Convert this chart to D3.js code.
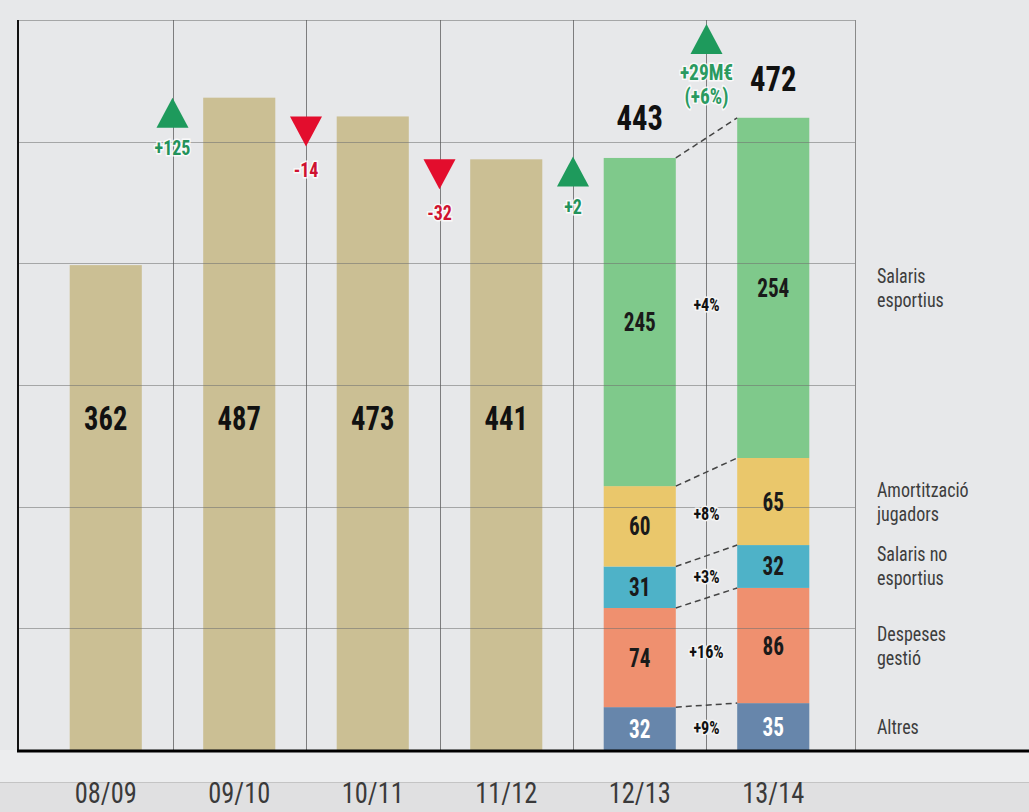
<!DOCTYPE html>
<html>
<head>
<meta charset="utf-8">
<script src="https://cdn.jsdelivr.net/npm/d3@7"></script>
<style>
  body { margin: 0; background: #e7e8ea; }
  text { font-family: "Roboto Condensed", "Liberation Sans Narrow", Roboto, sans-serif; }
</style>
</head>
<body>
<script>
// data
var seasons = ["08/09", "09/10", "10/11", "11/12", "12/13", "13/14"];
var totals = [362, 487, 473, 441, 443, 472];
var changes = ["+125", "-14", "-32", "+2"];
var totalChange = ["+29M€", "(+6%)"];

// breakdown, bottom to top
var categories = ["Altres", "Despeses gestió", "Salaris no esportius", "Amortització jugadors", "Salaris esportius"];
var legendLines = [["Altres"], ["Despeses", "gestió"], ["Salaris no", "esportius"], ["Amortització", "jugadors"], ["Salaris", "esportius"]];
var values1213 = [32, 74, 31, 60, 245];
var values1314 = [35, 86, 32, 65, 254];
var growth = ["+9%", "+16%", "+3%", "+8%", "+4%"];

var colors = ["#6786ab", "#ef906f", "#4eb2c8", "#eac76b", "#7fc98b"];
var barColor = "#cbbf94";
var upColor = "#1e9a5c", downColor = "#e30d2d";

var W = 1029, H = 812;
var plotLeft = 18, plotRight = 855, plotTop = 20, base = 750;
var yMax = 545;

var svg = d3.select("body").append("svg").attr("width", W).attr("height", H);

// squeeze text horizontally, no narrow font installed
function txt(parent, px, py, sx) {
  return parent.append("text")
    .attr("transform", "translate(" + px + "," + py + ") scale(" + sx + ",1)");
}

// backgrounds
svg.append("rect").attr("width", W).attr("height", H).attr("fill", "#e7e8ea");
svg.append("rect").attr("x", 0).attr("y", base).attr("width", W).attr("height", 32).attr("fill", "#ecedee");
svg.append("rect").attr("x", 0).attr("y", 782).attr("width", W).attr("height", H - 782).attr("fill", "#e0e0e1");
svg.append("line").attr("x1", 0).attr("x2", W).attr("y1", 782.5).attr("y2", 782.5).attr("stroke", "#c4c4c4");

var x = d3.scaleBand().domain(seasons).range([39, 840]).paddingInner(0.46).paddingOuter(0.23);
var y = d3.scaleLinear().domain([0, yMax]).range([base, plotTop]);
var gap = x.step() - x.bandwidth();

// plain bars
var simple = seasons.slice(0, 4);
svg.selectAll(".bar").data(simple).enter().append("rect")
  .attr("class", "bar")
  .attr("x", function (d) { return x(d); })
  .attr("y", function (d, i) { return y(totals[i]); })
  .attr("width", x.bandwidth())
  .attr("height", function (d, i) { return base - y(totals[i]); })
  .attr("fill", barColor);

// stacked bars
function stackOf(vals) {
  var acc = 0;
  return vals.map(function (v, i) {
    var s = { i: i, v: v, y0: acc, y1: acc + v };
    acc += v;
    return s;
  });
}
var stacks = [stackOf(values1213), stackOf(values1314)];
var stackSeasons = ["12/13", "13/14"];

stacks.forEach(function (st, k) {
  svg.append("g").selectAll("rect").data(st).enter().append("rect")
    .attr("x", x(stackSeasons[k]))
    .attr("y", function (d) { return y(d.y1); })
    .attr("width", x.bandwidth())
    .attr("height", function (d) { return y(d.y0) - y(d.y1); })
    .attr("fill", function (d) { return colors[d.i]; });
});

// grid on top of bars
var gridVals = d3.range(1, 7).map(function (i) { return yMax * i / 6; });
svg.selectAll(".hgrid").data(gridVals).enter().append("line")
  .attr("class", "hgrid")
  .attr("x1", plotLeft).attr("x2", plotRight)
  .attr("y1", function (d) { return Math.round(y(d)) + 0.5; })
  .attr("y2", function (d) { return Math.round(y(d)) + 0.5; })
  .attr("stroke", "#6f6f6f").attr("stroke-opacity", 0.55);

var dividers = seasons.slice(1).map(function (s) { return x(s) - gap / 2; });
svg.selectAll(".vgrid").data(dividers).enter().append("line")
  .attr("class", "vgrid")
  .attr("x1", function (d) { return Math.round(d) + 0.5; })
  .attr("x2", function (d) { return Math.round(d) + 0.5; })
  .attr("y1", plotTop).attr("y2", base)
  .attr("stroke", "#5a5a5a").attr("stroke-opacity", 0.75);

svg.append("line").attr("x1", plotRight + 0.5).attr("x2", plotRight + 0.5).attr("y1", plotTop).attr("y2", base)
  .attr("stroke", "#8a8a8a");
svg.append("line").attr("x1", plotLeft).attr("x2", plotLeft).attr("y1", plotTop).attr("y2", base)
  .attr("stroke", "#111").attr("stroke-width", 2);
svg.append("line").attr("x1", plotLeft - 1).attr("x2", W).attr("y1", base + 1).attr("y2", base + 1)
  .attr("stroke", "#000").attr("stroke-width", 3);

// values inside plain bars
simple.forEach(function (s, i) {
  txt(svg, x(s) + x.bandwidth() / 2, 430, 0.84)
    .attr("text-anchor", "middle")
    .attr("font-size", 34).attr("font-weight", "bold").attr("fill", "#111")
    .text(totals[i]);
});

// values inside stacked segments
stacks.forEach(function (st, k) {
  st.forEach(function (d) {
    txt(svg, x(stackSeasons[k]) + x.bandwidth() / 2, y((d.y0 + d.y1) / 2) + 9, 0.85)
      .attr("text-anchor", "middle")
      .attr("font-size", 25).attr("font-weight", "bold")
      .attr("fill", d.i === 0 ? "#fff" : "#1a1a1a")
      .text(d.v);
  });
});

// totals above stacked bars
stackSeasons.forEach(function (s, k) {
  txt(svg, x(s) + x.bandwidth() / 2, y(totals[4 + k]) - 27, 0.85)
    .attr("text-anchor", "middle")
    .attr("font-size", 36).attr("font-weight", "bold").attr("fill", "#111")
    .text(totals[4 + k]);
});

// dashed connectors between segment tops
var xa = x("12/13") + x.bandwidth(), xb = x("13/14");
svg.append("g").selectAll("line").data(stacks[0]).enter().append("line")
  .attr("x1", xa).attr("x2", xb)
  .attr("y1", function (d) { return y(d.y1); })
  .attr("y2", function (d, i) { return y(stacks[1][i].y1); })
  .attr("stroke", "#444").attr("stroke-width", 1.5).attr("stroke-dasharray", "6,4");

// growth percentages
var midX = (xa + xb) / 2;
stacks[0].forEach(function (d, i) {
  var c1 = y((d.y0 + d.y1) / 2), c2 = y((stacks[1][i].y0 + stacks[1][i].y1) / 2);
  txt(svg, midX, (c1 + c2) / 2 + 6, 0.9)
    .attr("text-anchor", "middle")
    .attr("font-size", 18).attr("font-weight", "bold").attr("fill", "#111")
    .attr("stroke", "#f4f4f4").attr("stroke-width", 3).attr("paint-order", "stroke")
    .text(growth[i]);
});

// change markers between seasons
var tri = 16, triH = 30;
changes.forEach(function (c, i) {
  var cx = dividers[i];
  var t = y(totals[i + 1]);
  var up = c.charAt(0) === "+";
  var pts = up
    ? [[cx, t], [cx - tri, t + triH], [cx + tri, t + triH]]
    : [[cx - tri, t], [cx + tri, t], [cx, t + triH]];
  svg.append("path").attr("d", d3.line()(pts) + "Z").attr("fill", up ? upColor : downColor);
  txt(svg, cx, t + triH + (up ? 27 : 31), 0.9)
    .attr("text-anchor", "middle")
    .attr("font-size", 20).attr("font-weight", "bold")
    .attr("fill", up ? "#23925a" : "#cf1230")
    .attr("stroke", "#fff").attr("stroke-opacity", 0.8).attr("stroke-width", 3).attr("paint-order", "stroke")
    .text(c);
});

// overall change marker
var lx = dividers[4], lt = y(yMax) + 4;
svg.append("path")
  .attr("d", d3.line()([[lx, lt], [lx - tri, lt + triH], [lx + tri, lt + triH]]) + "Z")
  .attr("fill", upColor);
totalChange.forEach(function (t, i) {
  txt(svg, lx, lt + triH + 26 + i * 24, 0.88)
    .attr("text-anchor", "middle")
    .attr("font-size", 22).attr("font-weight", "bold").attr("fill", "#2a9a60")
    .attr("stroke", "#fff").attr("stroke-opacity", 0.8).attr("stroke-width", 3).attr("paint-order", "stroke")
    .text(t);
});

// legend on the right, one text per line, aligned to 13/14 segments
stacks[1].forEach(function (d) {
  var lines = legendLines[d.i];
  var cy = y((d.y0 + d.y1) / 2);
  lines.forEach(function (l, j) {
    txt(svg, 877, cy - (lines.length - 1) * 12 + 7 + j * 24, 0.9)
      .attr("font-size", 20).attr("fill", "#3d3d3d")
      .text(l);
  });
});

// season labels
seasons.forEach(function (s) {
  txt(svg, x(s) + x.bandwidth() / 2, 803, 0.88)
    .attr("text-anchor", "middle")
    .attr("font-size", 30).attr("fill", "#3a3a3a")
    .text(s);
});
</script>
</body>
</html>
